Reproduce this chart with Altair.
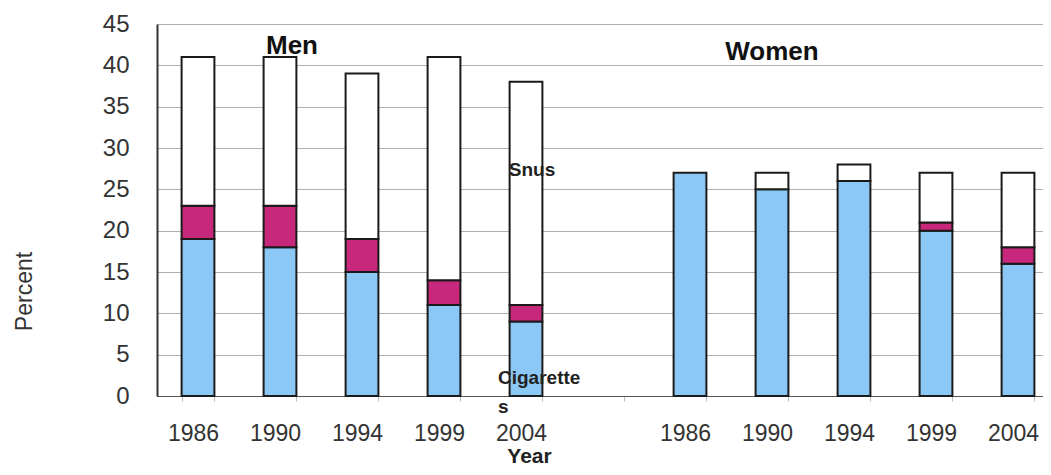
import altair as alt
import pandas as pd

years = ["1986", "1990", "1994", "1999", "2004"]
men_cig = [19, 18, 15, 11, 9]
men_both = [4, 5, 4, 3, 2]
men_snus = [18, 18, 20, 27, 27]
women_cig = [27, 25, 26, 20, 16]
women_both = [0, 0, 0, 1, 2]
women_snus = [0, 2, 2, 6, 9]

slots = ["M" + y for y in years] + ["gap"] + ["W" + y for y in years]

rows = []
for prefix, cig, both, snus in [("M", men_cig, men_both, men_snus), ("W", women_cig, women_both, women_snus)]:
    for i, y in enumerate(years):
        rows.append({"slot": prefix + y, "part": "Cigarettes", "order": 0, "value": cig[i]})
        rows.append({"slot": prefix + y, "part": "Both", "order": 1, "value": both[i]})
        rows.append({"slot": prefix + y, "part": "Snus", "order": 2, "value": snus[i]})
df = pd.DataFrame(rows)
df = df[df["value"] > 0]

xscale = alt.Scale(domain=slots, range=[0, 902], paddingInner=0.6, paddingOuter=0.3)
yscale = alt.Scale(domain=[0, 45])
FONT = "Liberation Sans"

bars = alt.Chart(df).mark_bar(stroke="#1a1a1a", strokeWidth=2).encode(
    x=alt.X("slot:N", scale=xscale, sort=slots,
            axis=alt.Axis(title="Year",
                          labelExpr="(!datum.value || datum.value == 'gap') ? '' : substring(datum.value, 1)",
                          labelAngle=0, labelFontSize=23, labelColor="#333333", labelPadding=21,
                          labelFont=FONT, labelOffset=-5,
                          tickBand="extent", tickColor="#bbbbbb", tickSize=5,
                          domainColor="#555555", domainWidth=1, grid=False,
                          titleFontSize=21, titleFont=FONT, titleFontWeight="bold",
                          titleColor="#222222", titleX=372, titleY=70, titleBaseline="bottom")),
    y=alt.Y("value:Q", stack="zero", scale=yscale,
            axis=alt.Axis(title="Percent", values=list(range(0, 50, 5)), labelFontSize=24,
                          labelColor="#333333", labelFont=FONT, labelPadding=28,
                          ticks=False, domainColor="#333333", domainWidth=2,
                          gridColor="#b0b0b0", gridWidth=1.2,
                          titleFontSize=23, titleFont=FONT, titleFontWeight="normal",
                          titleColor="#333333", titleX=-121, titleY=267, titleAngle=270)),
    color=alt.Color("part:N", scale=alt.Scale(domain=["Cigarettes", "Both", "Snus"],
                                              range=["#8cc8f6", "#c8287c", "#ffffff"]), legend=None),
    order=alt.Order("order:Q"),
)

ann_text = ["Men", "Women", "Snus"]
ann_slot = ["M1990", "W1990", "M2004"]
ann_y = [42.3, 41.6, 27.3]
ann = pd.DataFrame({"t": ann_text, "slot": ann_slot, "y": ann_y})

def label(rowsel, size, dx=0, color="#111111"):
    return alt.Chart(ann.iloc[rowsel]).mark_text(
        fontWeight="bold", font=FONT, color=color, fontSize=size, dx=dx).encode(
        x=alt.X("slot:N", scale=xscale, sort=slots),
        y=alt.Y("y:Q", scale=yscale), text="t:N")

men_l = label([0], 26, dx=12)
women_l = label([1], 26, dx=0)
snus_l = label([2], 19, dx=6, color="#222222")

cig_text = ["Cigarette", "s"]
cig_y = [2.2, -1.3]
cig_df = pd.DataFrame({"t": cig_text, "slot": ["M2004", "M2004"], "y": cig_y})
cig_l = alt.Chart(cig_df).mark_text(fontWeight="bold", font=FONT, color="#222222", fontSize=19,
                                    align="left", dx=-28).encode(
    x=alt.X("slot:N", scale=xscale, sort=slots), y=alt.Y("y:Q", scale=yscale), text="t:N")

chart = alt.layer(bars, men_l, women_l, snus_l, cig_l).properties(
    width=886, height=372,
    autosize=alt.AutoSizeParams(type="none"),
    padding={"left": 149, "top": 16, "right": 0, "bottom": 70},
).configure_view(stroke=None).configure(background="white")

chart.save("out.html", embed_options={"renderer": "svg", "actions": False})
